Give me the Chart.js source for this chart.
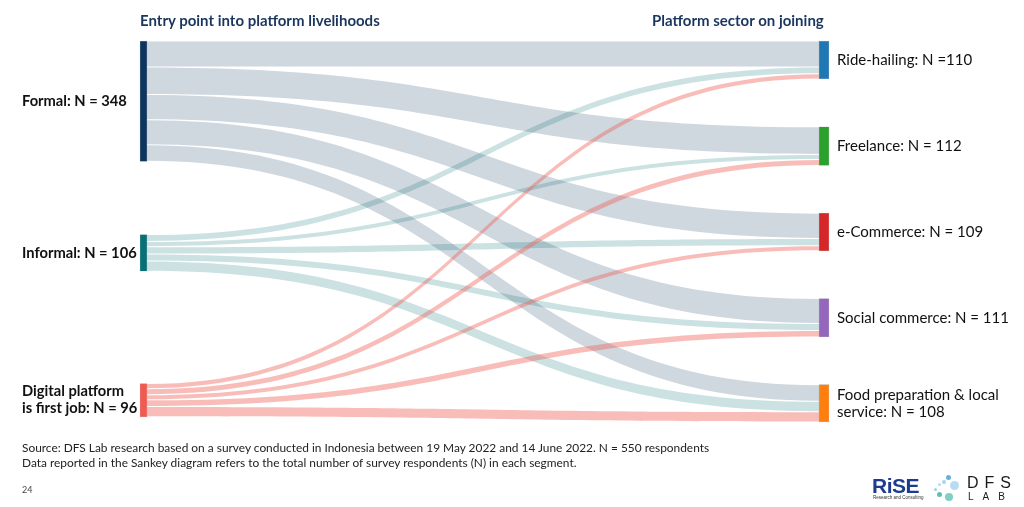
<!DOCTYPE html>
<html>
<head>
<meta charset="utf-8">
<script src="https://cdn.jsdelivr.net/npm/chart.js@4.4.1/dist/chart.umd.min.js"></script>
<style>
  body { margin: 0; background: #fff; font-family: Lato, 'Open Sans', sans-serif; }
  #wrap { position: relative; width: 1024px; height: 507px; overflow: hidden; }
  #sankey { position: absolute; left: 0; top: 0; }
  .hd { position: absolute; top: 11px; font-size: 15px; font-weight: 700; color: #1b365d; white-space: nowrap; }
  .note { position: absolute; left: 22px; font-size: 11.9px; color: #222; white-space: nowrap; }
  .page { position: absolute; left: 22px; top: 484px; font-size: 9px; color: #444; }
  .rise { position: absolute; left: 872px; top: 474px; font: bold 21px 'Liberation Sans', Arial, sans-serif; color: #1d3b8f; letter-spacing: -0.5px; }
  .rise-sub { position: absolute; left: 873px; top: 495px; font: 4.5px 'Liberation Sans', Arial, sans-serif; color: #333; }
  .dfs { position: absolute; left: 967px; top: 474px; font: 500 16px 'Liberation Sans', Arial, sans-serif; color: #1a1a1a; letter-spacing: 6px; }
  .lab { position: absolute; left: 968px; top: 491px; font: 10px 'Liberation Sans', Arial, sans-serif; color: #1a1a1a; letter-spacing: 9px; }
  .dot { position: absolute; border-radius: 50%; }
</style>
</head>
<body>
<div id="wrap">
  <canvas id="sankey" width="1024" height="507"></canvas>
  <div class="hd" style="left:140px">Entry point into platform livelihoods</div>
  <div class="hd" style="left:652px">Platform sector on joining</div>
  <div class="note" style="top:440px">Source: DFS Lab research based on a survey conducted in Indonesia between 19 May 2022 and 14 June 2022. N = 550 respondents</div>
  <div class="note" style="top:455px">Data reported in the Sankey diagram refers to the total number of survey respondents (N) in each segment.</div>
  <div class="page">24</div>
  <div class="rise">RiSE</div>
  <div class="rise-sub">Research and Consulting</div>
  <div class="dot" style="left:946px;top:475px;width:5px;height:5px;background:#6aaedc"></div>
  <div class="dot" style="left:942px;top:480px;width:4px;height:4px;background:#a9d3ee"></div>
  <div class="dot" style="left:950px;top:481px;width:9px;height:9px;background:#b7dcf1"></div>
  <div class="dot" style="left:938px;top:483px;width:3px;height:3px;background:#b7dcf1"></div>
  <div class="dot" style="left:934px;top:488px;width:3px;height:3px;background:#9fd0e6"></div>
  <div class="dot" style="left:937px;top:492px;width:5px;height:5px;background:#5bbfb5"></div>
  <div class="dot" style="left:945px;top:493px;width:8px;height:8px;background:#7fcfc4"></div>
  <div class="dfs">DFS</div>
  <div class="lab">LAB</div>
</div>
<script>
// ── Data ────────────────────────────────────────────────────────────────────
const SOURCE_LABELS = [['Formal: N = 348'], ['Informal: N = 106'], ['Digital platform', 'is first job: N = 96']];
const TARGET_LABELS = [
  ['Ride-hailing: N =110'],
  ['Freelance: N = 112'],
  ['e-Commerce: N = 109'],
  ['Social commerce: N = 111'],
  ['Food preparation & local', 'service: N = 108'],
];
// respondents per target (Ride-hailing, Freelance, e-Commerce, Social commerce, Food prep)
const FROM_FORMAL   = [75, 80, 73, 72, 48];
const FROM_INFORMAL = [20, 15, 21, 20, 30];
const FROM_DIGITAL  = [15, 17, 15, 19, 30];

const SOURCE_COLORS = ['#0d3560', '#0a7078', '#f05a50'];
const TARGET_COLORS = ['#1f77b4', '#2ca02c', '#d62728', '#9467bd', '#ff7f0e'];
const LINK_ALPHA    = [0.2, 0.21, 0.4];

// ── Layout (gaps between nodes, in respondent units) ───────────────────────
const LEFT_GAPS = [212, 325];
const RIGHT_GAP = 138;

const flows = [FROM_FORMAL, FROM_INFORMAL, FROM_DIGITAL];
const srcTotals = flows.map(f => f.reduce((a, b) => a + b, 0));
const tgtTotals = TARGET_LABELS.map((_, j) => flows.reduce((s, f) => s + f[j], 0));

function stackSpans(totals, gapAt) {
  let y = 0;
  return totals.map((t, i) => { const s = [y, y + t]; y += t + gapAt(i); return s; });
}
const srcSpans = stackSpans(srcTotals, i => LEFT_GAPS[i] || 0);
const tgtSpans = stackSpans(tgtTotals, () => RIGHT_GAP);
const yMax = Math.max(srcSpans[srcSpans.length - 1][1], tgtSpans[tgtSpans.length - 1][1]);

function rgba(hex, a) {
  const n = parseInt(hex.slice(1), 16);
  return `rgba(${n >> 16},${(n >> 8) & 255},${n & 255},${a})`;
}

// ── Links drawn under the node bars ────────────────────────────────────────
const linksPlugin = {
  id: 'sankeyLinks',
  beforeDatasetsDraw(chart) {
    const { ctx, scales: { y } } = chart;
    const srcBars = chart.getDatasetMeta(0).data;
    const tgtBars = chart.getDatasetMeta(1).data;
    const tgtOff = tgtSpans.map(s => s[0]);
    ctx.save();
    flows.forEach((row, i) => {
      let off = srcSpans[i][0];
      const x0 = srcBars[i].x + srcBars[i].width / 2;
      ctx.fillStyle = rgba(SOURCE_COLORS[i], LINK_ALPHA[i]);
      row.forEach((v, j) => {
        const x1 = tgtBars[j].x - tgtBars[j].width / 2;
        const xm = (x0 + x1) / 2;
        const a0 = y.getPixelForValue(off) + 0.5, a1 = y.getPixelForValue(off + v) - 0.5;
        const b0 = y.getPixelForValue(tgtOff[j]) + 0.5, b1 = y.getPixelForValue(tgtOff[j] + v) - 0.5;
        ctx.beginPath();
        ctx.moveTo(x0, a0);
        ctx.bezierCurveTo(xm, a0, xm, b0, x1, b0);
        ctx.lineTo(x1, b1);
        ctx.bezierCurveTo(xm, b1, xm, a1, x0, a1);
        ctx.closePath();
        ctx.fill();
        off += v;
        tgtOff[j] += v;
      });
    });
    ctx.restore();
  }
};

// ── Node labels ─────────────────────────────────────────────────────────────
const labelsPlugin = {
  id: 'nodeLabels',
  afterDatasetsDraw(chart, args, opts) {
    const { ctx, scales: { y } } = chart;
    const tgtBars = chart.getDatasetMeta(1).data;
    ctx.save();
    ctx.textBaseline = 'middle';
    ctx.textAlign = 'left';
    const drawLines = (lines, x, cy) => {
      const start = cy - (lines.length - 1) * opts.lineHeight / 2;
      lines.forEach((t, k) => ctx.fillText(t, x, start + k * opts.lineHeight));
    };
    ctx.font = 'bold 14.7px Lato, sans-serif';
    ctx.fillStyle = '#111';
    SOURCE_LABELS.forEach((lines, i) => {
      drawLines(lines, opts.leftX, y.getPixelForValue((srcSpans[i][0] + srcSpans[i][1]) / 2));
    });
    ctx.font = '15px Lato, sans-serif';
    TARGET_LABELS.forEach((lines, j) => {
      const x = tgtBars[j].x + tgtBars[j].width / 2 + opts.rightGap;
      drawLines(lines, x, y.getPixelForValue((tgtSpans[j][0] + tgtSpans[j][1]) / 2));
    });
    ctx.restore();
  }
};

new Chart(document.getElementById('sankey'), {
  type: 'bar',
  data: {
    datasets: [
      {
        data: srcSpans.map(s => ({ x: 0, y: s })),
        backgroundColor: SOURCE_COLORS,
        borderColor: 'rgba(0,0,0,0.25)',
        borderWidth: 0.5,
        borderSkipped: false,
        barThickness: 7,
        grouped: false,
        clip: false,
      },
      {
        data: tgtSpans.map(s => ({ x: 1, y: s })),
        backgroundColor: TARGET_COLORS,
        borderColor: 'rgba(0,0,0,0.25)',
        borderWidth: 0.5,
        borderSkipped: false,
        barThickness: 10,
        grouped: false,
        clip: false,
      }
    ]
  },
  options: {
    responsive: false,
    animation: false,
    layout: { padding: { left: 143.5, right: 200, top: 41, bottom: 85 } },
    scales: {
      x: { type: 'linear', min: 0, max: 1, offset: false, display: false },
      y: { min: 0, max: yMax, reverse: true, display: false },
    },
    plugins: {
      legend: { display: false },
      tooltip: { enabled: false },
      nodeLabels: { leftX: 22, rightGap: 8, lineHeight: 17 },
    }
  },
  plugins: [linksPlugin, labelsPlugin]
});
</script>
</body>
</html>
